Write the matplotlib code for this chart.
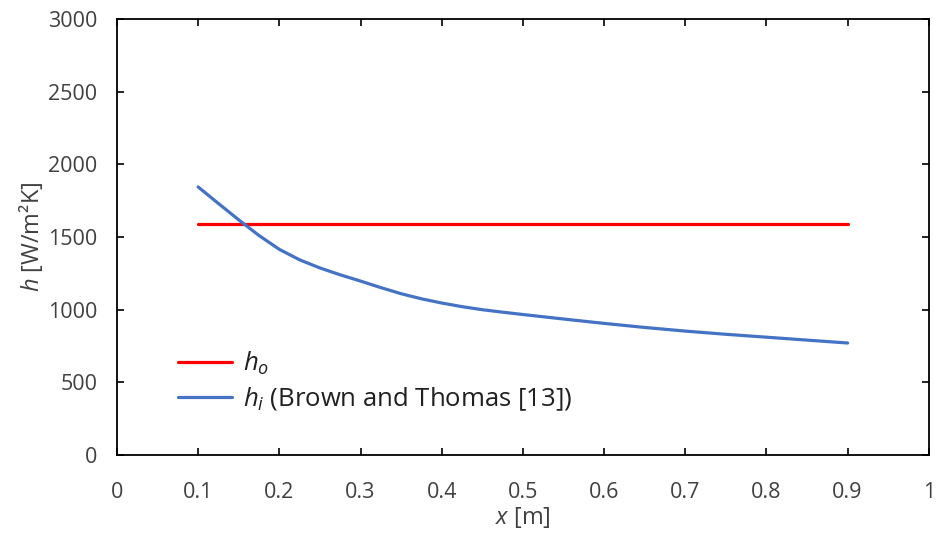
import numpy as np
import matplotlib
matplotlib.use("Agg")
import matplotlib.pyplot as plt

plt.rcParams['font.family'] = ['Open Sans', 'DejaVu Sans']
plt.rcParams['mathtext.fontset'] = 'custom'
plt.rcParams['mathtext.rm'] = 'Open Sans'
plt.rcParams['mathtext.it'] = 'Open Sans:italic'

# data
x_ho = [0.1, 0.9]
h_o = [1590, 1590]

x_hi = [0.100, 0.125, 0.150, 0.175, 0.200, 0.225, 0.250, 0.275, 0.300, 0.325,
        0.350, 0.375, 0.400, 0.425, 0.450, 0.475, 0.50, 0.55, 0.60, 0.65,
        0.70, 0.75, 0.80, 0.85, 0.90]
h_i = [1844, 1730, 1618, 1510, 1415, 1343, 1287, 1240, 1197, 1152,
       1110, 1075, 1046, 1021, 1000, 983, 967, 936, 906, 878,
       853, 831, 811, 791, 771]

fig = plt.figure(figsize=(9.38, 5.38), dpi=100)
ax = fig.add_axes([0.1247, 0.154, 0.8655, 0.811])

ax.plot(x_ho, h_o, color='#FF0000', lw=2.3, solid_capstyle='round', label='$h_o$')
ax.plot(x_hi, h_i, color='#4472C4', lw=2.3, solid_capstyle='round',
        solid_joinstyle='round', label='$h_i$ (Brown and Thomas [13])')

ax.set_xlim(0, 1)
ax.set_ylim(0, 3000)
ax.set_xticks(np.arange(0, 1.01, 0.1))
ax.set_xticklabels(['0', '0.1', '0.2', '0.3', '0.4', '0.5', '0.6', '0.7', '0.8', '0.9', '1'])
ax.set_yticks(np.arange(0, 3001, 500))

ax.tick_params(axis='both', direction='in', top=True, right=True, length=5, width=1.2,
               labelsize=15.5, colors='black', labelcolor='#404040')
ax.tick_params(axis='x', pad=19)
ax.tick_params(axis='y', pad=14)
for s in ax.spines.values():
    s.set_linewidth(1.3)

ax.set_xlabel('$x$ [m]', fontsize=17, color='#404040', labelpad=2)
ax.set_ylabel('$h$ [W/m²K]', fontsize=17, color='#404040', labelpad=2)

leg = ax.legend(loc='upper left', bbox_to_anchor=(0.062, 0.265), frameon=False,
                fontsize=18.5, handlelength=2.1, handletextpad=0.45, labelspacing=0.32,
                borderaxespad=0)
for t in leg.get_texts():
    t.set_color('#202020')

fig.savefig('out.png', dpi=100)
